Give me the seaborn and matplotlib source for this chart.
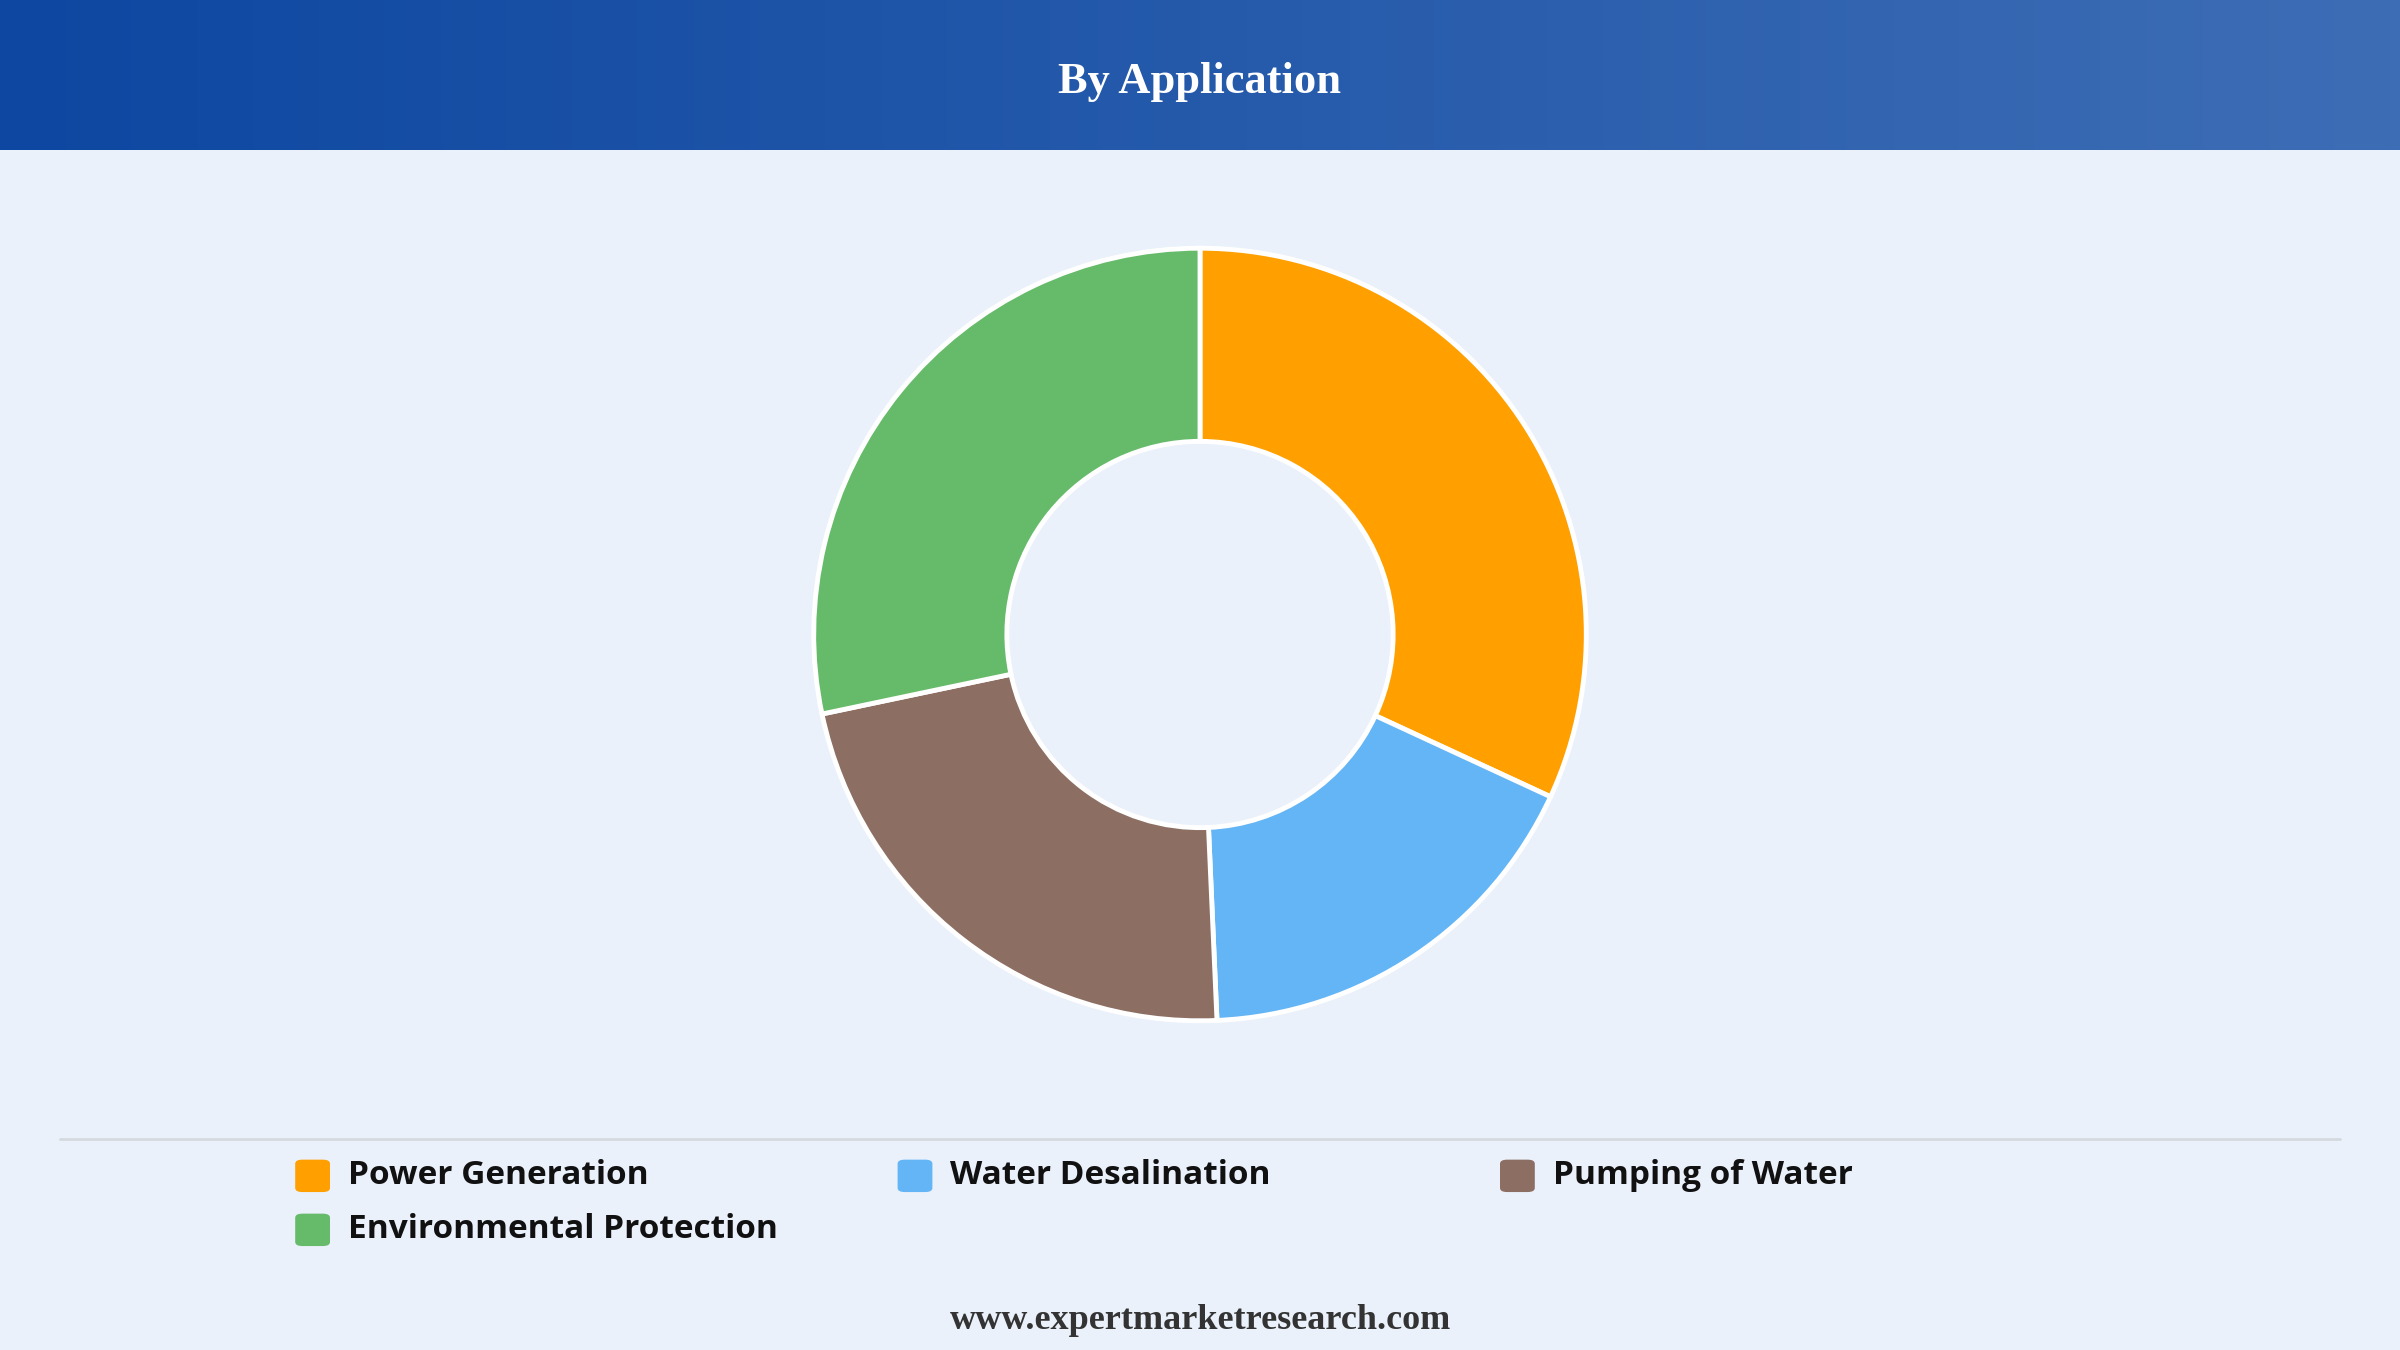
import numpy as np
import matplotlib
matplotlib.use("Agg")
import matplotlib.pyplot as plt
from matplotlib.patches import FancyBboxPatch
import seaborn as sns

# DATA
categories=["Power Generation","Water Desalination","Pumping of Water","Environmental Protection"]
shares=[31.9,17.4,22.4,28.3]
colors=["#ffa000","#64b5f6","#8d6e63","#66bb6a"]
title="By Application"
footer="www.expertmarketresearch.com"

sns.set_theme(style="white")
plt.rcParams["font.family"]=["Open Sans","DejaVu Sans"]

fig=plt.figure(figsize=(24,13.5),dpi=100)
fig.patch.set_facecolor("#eaf1fb")

# HEADER gradient
hdr=fig.add_axes([0,0.889,1,0.111])
grad=np.linspace(0,1,256).reshape(1,-1)
cmap=matplotlib.colors.LinearSegmentedColormap.from_list("h",["#0d47a1","#3d6db5"])
hdr.imshow(grad,aspect="auto",cmap=cmap,extent=[0,1,0,1])
hdr.axis("off")
hdr.text(0.5,0.45,title,ha="center",va="center",color="white",fontsize=32,fontweight="bold",family="Liberation Serif")

# DONUT
r=0.289
ax=fig.add_axes([0.5-r*13.5/24,0.53-r,2*r*13.5/24,2*r])
ax.pie(shares,colors=colors,startangle=90,counterclock=False,
       wedgeprops=dict(width=0.5,edgecolor="white",linewidth=3.5))
ax.set_xlim(-1.01,1.01)
ax.set_ylim(-1.01,1.01)
ax.set_aspect("equal")

# separator
fig.add_artist(plt.Line2D([0.025,0.975],[0.156,0.156],color="#d5d9e0",linewidth=2))

# LEGEND
xs=[0.123,0.374,0.625]
for i,(c,col) in enumerate(zip(categories,colors)):
    x=xs[i%3]
    y=0.129-(i//3)*0.04
    fig.add_artist(FancyBboxPatch((x,y-0.012),0.0145,0.024,boxstyle="round,pad=0,rounding_size=0.003",
                                  transform=fig.transFigure,facecolor=col,edgecolor="none"))
    fig.text(x+0.022,y,c,va="center",ha="left",fontsize=24,fontweight="bold",color="#111111")

fig.text(0.5,0.022,footer,ha="center",va="center",fontsize=26,fontweight="bold",color="#333333",family="Liberation Serif")

plt.savefig("out.png",dpi=100,facecolor=fig.get_facecolor())
